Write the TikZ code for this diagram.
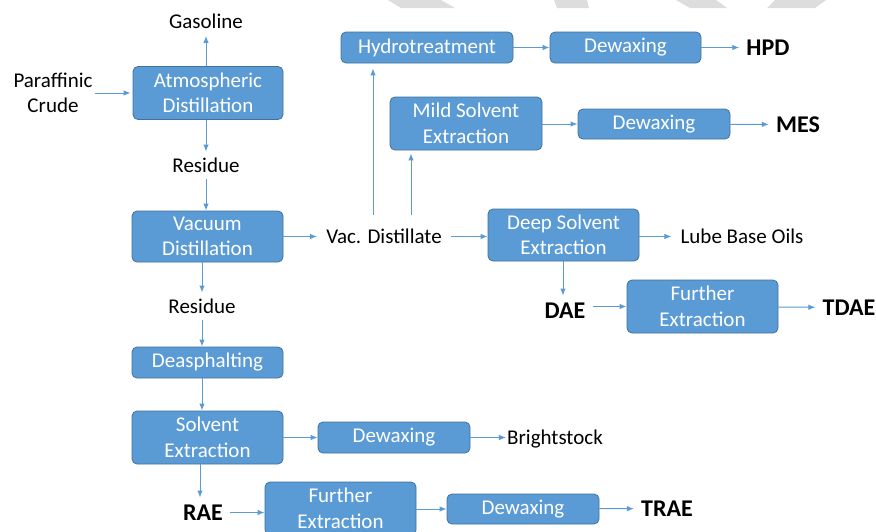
\documentclass[tikz,border=0pt]{standalone}
\usepackage{fontspec}
\setmainfont{Carlito}
\usepackage{tikz}
\usetikzlibrary{arrows.meta}
\definecolor{boxfill}{HTML}{5B9BD5}
\definecolor{boxline}{HTML}{41719C}
\definecolor{wmark}{HTML}{DDDDDD}

\begin{document}
\begin{tikzpicture}[x=1pt,y=-1pt,
  unit/.style={draw=boxline,fill=boxfill,rounded corners=5pt,text=white,align=center,
    font=\fontsize{21}{25.5}\selectfont,inner sep=0pt,line width=0.8pt,minimum width=151pt},
  oneline/.style={unit,minimum height=31pt},
  twoline/.style={unit,minimum height=53pt},
  lbl/.style={font=\fontsize{21}{25.5}\selectfont,inner xsep=9pt,inner ysep=7pt,text height=13.5pt,text depth=0pt},
  prod/.style={font=\fontsize{24}{28}\selectfont\bfseries,inner xsep=7pt,inner ysep=7pt,text height=15.5pt,text depth=0pt},
  flow/.style={draw=boxfill,line width=1pt,-{Latex[length=7pt,width=5.5pt]}}]
\useasboundingbox (0,0) rectangle (876,531);
\fill[white] (0,0) rectangle (876,531);
\fill[wmark] (388,0) -- (441,0) -- (455,8) -- (401,8) -- cycle;
\fill[wmark] (554,0) -- (587,0) -- (589,8) -- (557,8) -- cycle;
\fill[wmark] (676,0) -- (716,0) -- (727,8) -- (690,8) -- cycle;
\fill[wmark] (775,0) -- (826,0) -- (815,8) -- (767,8) -- cycle;

\node[twoline,minimum width=150pt] (atm) at (208,93) {Atmospheric\\Distillation};
\node[twoline,minimum height=51pt] (vac) at (207.5,236.5) {Vacuum\\Distillation};
\node[oneline] (deasph) at (207.5,362.5) {Deasphalting};
\node[twoline] (solv) at (207.5,437.5) {Solvent\\Extraction};
\node[oneline,minimum width=152pt] (dewB) at (394,437.5) {Dewaxing};
\node[twoline] (furR) at (340.5,508.5) {Further\\Extraction};
\node[oneline,minimum width=152pt,minimum height=30pt] (dewR) at (523,509) {Dewaxing};
\node[oneline,minimum width=172pt] (hydro) at (427,47.5) {Hydrotreatment};
\node[oneline] (dewH) at (625.5,47.5) {Dewaxing};
\node[twoline,minimum width=152pt] (mild) at (466,123.5) {Mild Solvent\\Extraction};
\node[oneline,minimum width=152pt,minimum height=30pt] (dewM) at (654,124) {Dewaxing};
\node[twoline,minimum height=52pt] (deep) at (563.5,235) {Deep Solvent\\Extraction};
\node[twoline] (furD) at (702.5,306.5) {Further\\Extraction};

\node[align=center,font=\fontsize{21}{25.5}\selectfont,inner sep=2pt] (crude) at (53,93) {Paraffinic\\Crude};
\node[lbl] (gas) at (206,22) {Gasoline};
\node[lbl] (res1) at (206,165.5) {Residue};
\node[lbl] (res2) at (202,306.5) {Residue};
\node[lbl] (vacd) at (384,236.5) {Vac. Distillate};
\node[lbl] (lube) at (742,236.5) {Lube Base Oils};
\node[lbl,inner xsep=1pt] (bright) at (555,437.5) {Brightstock};
\node[prod] (hpd) at (768,47.5) {HPD};
\node[prod] (mes) at (798,124.5) {MES};
\node[prod] (dae) at (565,310.5) {DAE};
\node[prod] (tdae) at (849,307.5) {TDAE};
\node[prod] (rae) at (203,512.5) {RAE};
\node[prod] (trae) at (667,508.5) {TRAE};

\coordinate (upH) at (373,215);
\coordinate (upM) at (411,215);

\draw[flow,shorten >=2pt] (crude) -- (atm);
\draw[flow] (atm.north -| gas.south) -- (gas.south);
\draw[flow] (atm.south -| res1.north) -- (res1.north);
\draw[flow] (res1.south) -- (res1.south |- vac.north);
\draw[flow] (vac.south -| res2.north) -- (res2.north);
\draw[flow] (res2.south) -- (res2.south |- deasph.north);
\draw[flow] (deasph.south -| res2) -- (solv.north -| res2);
\draw[flow] (solv.south -| 200,0) -- (rae.north -| 200,0);
\draw[flow] (rae.east) -- (rae.east -| furR.west);
\draw[flow] (furR.east |- dewR) -- (dewR.west);
\draw[flow] (dewR) -- (trae);
\draw[flow] (solv) -- (dewB);
\draw[flow] (dewB) -- (bright);
\draw[flow] (vac.east |- vacd) -- (vacd.west);
\draw[flow] (vacd.east) -- (vacd.east -| deep.west);
\draw[flow] (deep.east |- lube) -- (lube.west);
\draw[flow] (deep.south -| 563,0) -- (dae.north -| 563,0);
\draw[flow] (dae.east |- furD) -- (furD.west);
\draw[flow] (furD) -- (tdae);
\draw[flow,shorten >=5pt] (upH) -- (upH |- hydro.south);
\draw[flow,shorten >=3pt] (upM) -- (upM |- mild.south);
\draw[flow] (hydro) -- (dewH);
\draw[flow] (dewH) -- (hpd);
\draw[flow] (mild.east |- dewM) -- (dewM.west);
\draw[flow] (dewM) -- (mes);
\end{tikzpicture}
\end{document}
